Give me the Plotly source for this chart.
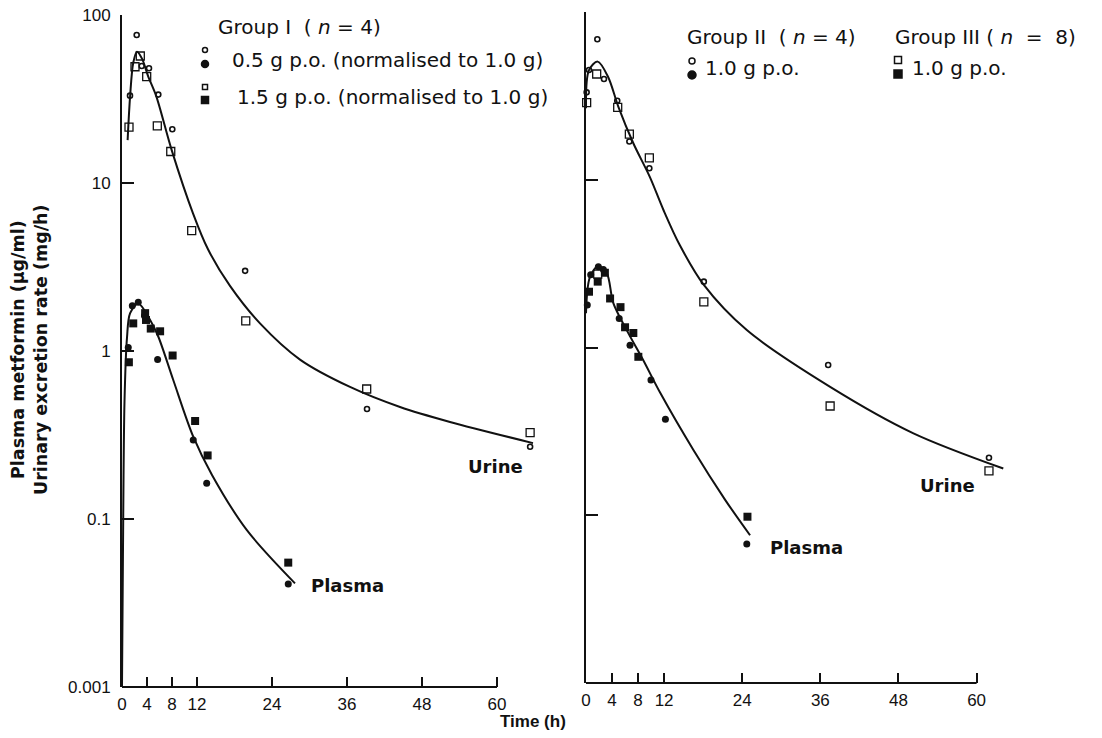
import plotly.graph_objects as go

# ---------------- data ----------------
# Group I, 0.5 g p.o. (normalised to 1.0 g): urine (open circles), plasma (filled circles)
g1_lo_urine_t = [1.28, 2.35, 3.15, 4.32, 5.81, 8.05, 19.7, 39.2, 65.3]
g1_lo_urine_v = [33.1, 76.0, 49.7, 48.2, 33.6, 20.9, 3.0, 0.452, 0.269]
g1_lo_plasma_t = [1.0, 1.65, 2.6, 3.6, 5.7, 11.4, 13.55, 26.6]
g1_lo_plasma_v = [1.05, 1.86, 1.95, 1.62, 0.89, 0.295, 0.163, 0.041]

# Group I, 1.5 g p.o. (normalised to 1.0 g): urine (open squares), plasma (filled squares)
g1_hi_urine_t = [1.12, 2.08, 2.93, 3.95, 5.65, 7.8, 11.15, 19.8, 39.15, 65.3]
g1_hi_urine_v = [21.5, 49.2, 57.0, 43.0, 21.9, 15.4, 5.2, 1.51, 0.594, 0.327]
g1_hi_plasma_t = [1.1, 1.8, 3.7, 3.84, 4.6, 6.1, 8.1, 11.7, 13.7, 26.6]
g1_hi_plasma_v = [0.857, 1.46, 1.68, 1.53, 1.36, 1.31, 0.94, 0.383, 0.239, 0.055]

# Fitted curves, Group I
g1_urine_fit_t = [0.9, 1.3, 1.8, 2.4, 3.2, 4.2, 5.5, 7.95, 11.36, 13.76, 17.28,
                  22.08, 28.48, 36.48, 44.48, 52.48, 65.76]
g1_urine_fit_v = [18.0, 33.0, 52.0, 60.5, 55.0, 43.0, 32.7, 15.7, 6.6, 4.03, 2.44,
                  1.46, 0.889, 0.611, 0.464, 0.378, 0.283]
g1_plasma_fit_t = [0.0, 0.15, 0.4, 0.8, 1.3, 2.6, 4.5, 5.8, 8.2, 11.4, 14.4, 19.95, 27.68]
g1_plasma_fit_v = [0.0101, 0.06, 0.5, 1.2, 1.68, 1.92, 1.53, 1.22, 0.672, 0.309, 0.183, 0.0861, 0.0414]

# Group II, 1.0 g p.o.: urine (open circles), plasma (filled circles)
g2_urine_t = [0.1, 0.46, 1.74, 2.76, 4.8, 6.66, 9.73, 18.1, 37.2, 61.9]
g2_urine_v = [33.2, 45.1, 68.8, 39.9, 29.6, 16.9, 11.7, 2.47, 0.787, 0.220]
g2_plasma_t = [0.2, 0.72, 1.9, 2.66, 5.1, 6.76, 9.98, 12.2, 24.7]
g2_plasma_v = [1.79, 2.71, 3.03, 2.92, 1.49, 1.03, 0.64, 0.373, 0.0674]

# Group III, 1.0 g p.o.: urine (open squares), plasma (filled squares)
g3_urine_t = [0.1, 1.64, 4.87, 6.66, 9.73, 18.1, 37.5, 61.9]
g3_urine_v = [28.8, 42.7, 27.0, 18.7, 13.5, 1.87, 0.448, 0.184]
g3_plasma_t = [0.46, 1.8, 2.9, 3.7, 5.3, 6.0, 7.27, 8.04, 24.8]
g3_plasma_v = [2.15, 2.47, 2.79, 1.96, 1.74, 1.32, 1.22, 0.88, 0.098]
g3_plasma_open_t = [1.8]
g3_plasma_open_v = [2.74]

# Fitted curves, Groups II/III
g23_urine_fit_t = [0.0, 0.46, 1.8, 3.4, 4.96, 7.27, 9.8, 11.9, 14.4, 18.1, 24.7, 37.5, 50.3, 64.1]
g23_urine_fit_v = [26.7, 45.0, 50.6, 41.0, 27.3, 16.5, 10.4, 6.6, 4.08, 2.36, 1.27, 0.583, 0.308, 0.190]
g23_plasma_fit_t = [0.0, 0.61, 1.9, 3.2, 4.2, 6.25, 8.8, 11.4, 16.5, 21.35, 25.2]
g23_plasma_fit_v = [1.6, 2.64, 3.06, 2.77, 1.84, 1.27, 0.84, 0.537, 0.245, 0.124, 0.076]

# Axis ticks
x_ticks = [0, 4, 8, 12, 24, 36, 48, 60]
y_ticks = [0.01, 0.1, 1, 10, 100]
y_ticktext = ["0.001", "0.1", "1", "10", "100"]

# ---------------- figure ----------------
W, H = 1102, 738
INK = "#111111"
TICK_FONT = "Liberation Sans, Arial, sans-serif"
TEXT_FONT = "DejaVu Sans, Verdana, sans-serif"
NB = "\u00a0"


def px(x):
    return x / W


def py(y):
    return 1 - y / H


fig = go.Figure()


def pts(x, y, xa, ya, symbol, size, lw=0):
    fig.add_trace(go.Scatter(
        x=x, y=y, mode="markers", xaxis=xa, yaxis=ya, showlegend=False,
        marker=dict(symbol=symbol, size=size, color=INK,
                    line=dict(color=INK, width=lw)),
        cliponaxis=False,
    ))


def curve(x, y, xa, ya):
    fig.add_trace(go.Scatter(
        x=x, y=y, mode="lines", xaxis=xa, yaxis=ya, showlegend=False,
        line=dict(color=INK, width=2, shape="spline", smoothing=0.9),
        cliponaxis=False,
    ))


# left panel
curve(g1_urine_fit_t, g1_urine_fit_v, "x", "y")
curve(g1_plasma_fit_t, g1_plasma_fit_v, "x", "y")
pts(g1_lo_urine_t, g1_lo_urine_v, "x", "y", "circle-open", 5, 1.6)
pts(g1_hi_urine_t, g1_hi_urine_v, "x", "y", "square-open", 8, 1.3)
pts(g1_lo_plasma_t, g1_lo_plasma_v, "x", "y", "circle", 7)
pts(g1_hi_plasma_t, g1_hi_plasma_v, "x", "y", "square", 8)

# right panel
curve(g23_urine_fit_t, g23_urine_fit_v, "x2", "y2")
curve(g23_plasma_fit_t, g23_plasma_fit_v, "x2", "y2")
pts(g2_urine_t, g2_urine_v, "x2", "y2", "circle-open", 5, 1.6)
pts(g3_urine_t, g3_urine_v, "x2", "y2", "square-open", 8, 1.3)
pts(g2_plasma_t, g2_plasma_v, "x2", "y2", "circle", 7)
pts(g3_plasma_t, g3_plasma_v, "x2", "y2", "square", 8)
pts(g3_plasma_open_t, g3_plasma_open_v, "x2", "y2", "square-open", 8, 1.3)

xcommon = dict(range=[0, 68], tickvals=x_ticks, ticktext=[str(t) for t in x_ticks],
               ticks="inside", ticklen=10, tickwidth=2, tickcolor=INK,
               showline=False, showgrid=False, zeroline=False, ticklabelstandoff=5,
               tickfont=dict(family=TICK_FONT, size=17, color=INK), automargin=False)
ycommon = dict(type="log", range=[-2, 2], tickvals=y_ticks, ticktext=y_ticktext,
               ticks="inside", ticklen=12, tickwidth=2, tickcolor=INK,
               showline=True, linewidth=2, linecolor=INK,
               showgrid=False, zeroline=False, ticklabelstandoff=6,
               tickfont=dict(family=TICK_FONT, size=17, color=INK), automargin=False)

fig.update_layout(
    width=W, height=H,
    margin=dict(l=0, r=0, t=0, b=0),
    paper_bgcolor="white", plot_bgcolor="rgba(0,0,0,0)",
    font=dict(family=TICK_FONT, color=INK),
    xaxis=dict(domain=[px(122), px(122 + 68 * 6.25)], anchor="y", **xcommon),
    yaxis=dict(domain=[py(687), py(15)], anchor="x", **ycommon),
    xaxis2=dict(domain=[px(586), px(586 + 68 * 6.51)], anchor="y2", **xcommon),
    yaxis2=dict(domain=[py(683), py(12)], anchor="x2", showticklabels=False, **ycommon),
)

# x-axis baselines stop at the 60 h tick
fig.add_shape(type="line", xref="x", yref="y domain", x0=0, x1=60, y0=0, y1=0,
              line=dict(color=INK, width=2))
fig.add_shape(type="line", xref="x2", yref="y2 domain", x0=0, x1=60, y0=0, y1=0,
              line=dict(color=INK, width=2))


# key symbols
def key(kind, x, y, d, filled):
    fig.add_shape(type=kind, xref="paper", yref="paper",
                  xsizemode="pixel", ysizemode="pixel",
                  xanchor=px(x), yanchor=py(y),
                  x0=-d / 2, x1=d / 2, y0=-d / 2, y1=d / 2,
                  line=dict(color=INK, width=1.5),
                  fillcolor=INK if filled else "white")


key("circle", 205, 50, 5, False)
key("circle", 205, 64, 7, True)
key("rect", 205, 87, 5, False)
key("rect", 205, 100, 7, True)
key("circle", 692, 61, 6, False)
key("circle", 692, 75, 8, True)
key("rect", 898, 60, 7, False)
key("rect", 898, 74, 8, True)


def label(text, x, y, size=20, bold=False, anchor="left", angle=0, family=TEXT_FONT):
    fig.add_annotation(text=f"<b>{text}</b>" if bold else text,
                       xref="paper", yref="paper", x=px(x), y=py(y),
                       xanchor=anchor, yanchor="middle", showarrow=False,
                       textangle=angle,
                       font=dict(family=family, size=size, color=INK))


label(f"Group I {NB}( <i>n</i> = 4)", 216, 27)
label("0.5 g p.o. (normalised to 1.0 g)", 230, 60)
label("1.5 g p.o. (normalised to 1.0 g)", 235, 97)
label(f"Group II {NB}( <i>n</i> = 4)", 685, 37)
label("1.0 g p.o.", 703, 68)
label(f"Group III ( <i>n</i> {NB}={NB} 8)", 893, 37)
label("1.0 g p.o.", 910, 68)

label("Urine", 466, 467, 18, True)
label("Plasma", 309, 585, 18, True)
label("Urine", 918, 485, 18, True)
label("Plasma", 768, 547, 18, True)

label("Plasma metformin (µg/ml)", 18, 350, 17.5, True, "center", -90)
label("Urinary excretion rate (mg/h)", 41, 350, 17.5, True, "center", -90)
label("Time (h)", 533, 721, 17, True, "center", family=TICK_FONT)

fig.write_html("out.html")
